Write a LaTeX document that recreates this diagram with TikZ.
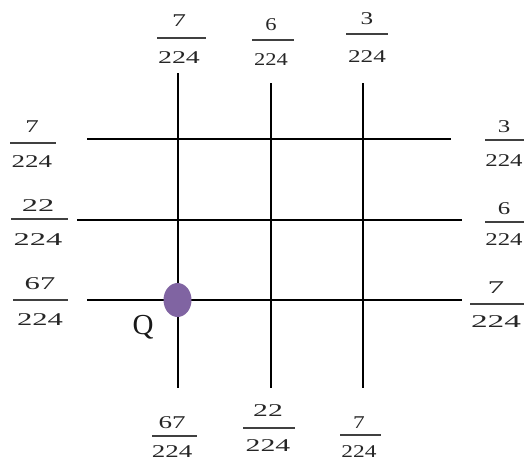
\documentclass[tikz,border=0pt]{standalone}
\usepackage{fontspec}
\setmainfont{Liberation Serif}
\usepackage{graphicx}
\usetikzlibrary{shapes.geometric}
\definecolor{qpurple}{RGB}{128,100,162}
\newcommand\sx[2]{\scalebox{#1}[1]{#2}}
% name, cx, numy, bary, deny, x1, x2, numerator, stretch
\newcommand\myfr[9]{%
  \node[dig] (#1n) at (#2,#3) {\sx{#9}{#8}};
  \node[dig] (#1d) at (#2,#5) {\sx{#9}{224}};
  \draw[fbar] (#6,#4) -- (#7,#4);}
\begin{document}
\begin{tikzpicture}[x=1pt,y=-1pt,
  gridline/.style={line width=2pt, black},
  fbar/.style={line width=1.1pt, black!75},
  dig/.style={font=\fontsize{18}{20}\selectfont, inner sep=0pt, text=black!85}]
\useasboundingbox (0,0) rectangle (525,463);

% grid coordinates
\coordinate (v1t) at (178,73);  \coordinate (v1b) at (178,388);
\coordinate (v2t) at (271,83);  \coordinate (v2b) at (271,388);
\coordinate (v3t) at (363,83);  \coordinate (v3b) at (363,388);
\coordinate (h1l) at (87,139);  \coordinate (h1r) at (451,139);
\coordinate (h2l) at (77,220);  \coordinate (h2r) at (462,220);
\coordinate (h3l) at (87,300);  \coordinate (h3r) at (462,300);

\draw[gridline] (v1t) -- (v1b);
\draw[gridline] (v2t) -- (v2b);
\draw[gridline] (v3t) -- (v3b);
\draw[gridline] (h1l) -- (h1r);
\draw[gridline] (h2l) -- (h2r);
\draw[gridline] (h3l) -- (h3r);

% point Q
\node[ellipse, fill=qpurple, minimum width=28pt, minimum height=34pt, inner sep=0pt] (P) at (177.5,300) {};
\node[font=\fontsize{29}{32}\selectfont, inner sep=0pt, anchor=base, text=black!90] (Q) at (143,334) {Q};

% fractions: top
\myfr{T1}{179}{21}{38}{58}{157}{206}{7}{1.55}
\myfr{T2}{271}{25}{40}{60}{252}{294}{6}{1.25}
\myfr{T3}{367}{19}{34}{57}{346}{388}{3}{1.4}
% left
\myfr{L1}{32}{127}{143}{162}{10}{56}{7}{1.5}
\myfr{L2}{38}{206}{219}{240}{11}{68}{22}{1.8}
\myfr{L3}{40}{284}{300}{320}{13}{68}{67}{1.7}
% right
\myfr{R1}{504}{127}{140}{161}{485}{524}{3}{1.38}
\myfr{R2}{504}{209}{222}{240}{485}{524}{6}{1.38}
\myfr{R3}{496}{288}{304}{322}{470}{524}{7}{1.85}
% bottom
\myfr{B1}{172}{423}{436}{452}{152}{197}{67}{1.5}
\myfr{B2}{268}{411}{428}{446}{243}{295}{22}{1.65}
\myfr{B3}{359}{423}{435}{452}{340}{381}{7}{1.3}
\end{tikzpicture}
\end{document}
